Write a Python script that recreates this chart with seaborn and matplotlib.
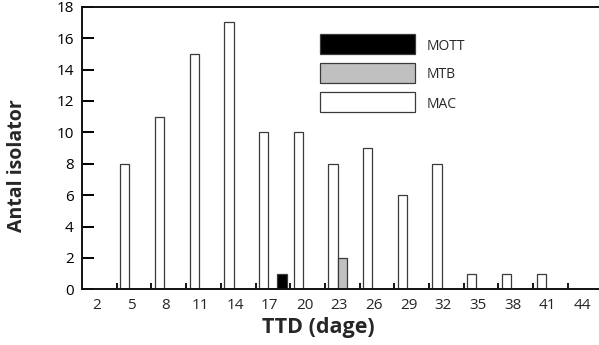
import matplotlib
matplotlib.use("Agg")
import matplotlib.pyplot as plt
import matplotlib.transforms as mtransforms
from matplotlib.patches import Rectangle
import seaborn as sns
import pandas as pd
import numpy as np

ttd_labels = ["2", "5", "8", "11", "14", "17", "20", "23", "26", "29", "32", "35", "38", "41", "44"]
mac_values = [0, 8, 11, 15, 17, 10, 10, 8, 9, 6, 8, 1, 1, 1, 0]
mtb_values = [0, 0, 0, 0, 0, 0, 0, 2, 0, 0, 0, 0, 0, 0, 0]
mott_values = [0, 0, 0, 0, 0, 1, 0, 0, 0, 0, 0, 0, 0, 0, 0]
series_names = ["MAC", "MTB", "MOTT"]
legend_order = ["MOTT", "MTB", "MAC"]
colors = {"MAC": "white", "MTB": "#c0c0c0", "MOTT": "black"}

rows = []
for name, vals in zip(series_names, [mac_values, mtb_values, mott_values]):
    for lab, v in zip(ttd_labels, vals):
        if v > 0:
            rows.append({"TTD": lab, "Antal": v, "Type": name})
df = pd.DataFrame(rows)

sns.set_style("white")
plt.rcParams["font.family"] = ["Open Sans", "DejaVu Sans"]

W, H = 599, 345
fig = plt.figure(figsize=(W / 100, H / 100), dpi=100)
left_px, right_px = 82, 82 + 15 * 34.7
bottom_px, top_px = 289.3, 6.7
ax = fig.add_axes([left_px / W, (H - bottom_px) / H,
                   (right_px - left_px) / W, (bottom_px - top_px) / H])

sns.barplot(data=df, x="TTD", y="Antal", hue="Type", order=ttd_labels,
            hue_order=series_names, palette=colors, width=0.8,
            edgecolor="#3a3a3a", linewidth=0.9, legend=False, ax=ax, dodge=True)

ax.set_xlim(-0.5, 14.5)
ax.set_ylim(0, 18)
ax.set_yticks(np.arange(0, 19, 2))
ax.set_xticks(range(len(ttd_labels)))
ax.set_xticklabels(ttd_labels)
ax.set_xticks(np.arange(0.5, 14, 1.0), minor=True)

for side in ["left", "bottom", "top"]:
    ax.spines[side].set_visible(True)
    ax.spines[side].set_linewidth(1.4)
    ax.spines[side].set_color("#111111")
ax.spines["right"].set_visible(False)

ax.tick_params(axis="y", direction="in", length=8.6, width=1.4, pad=6,
               labelsize=11, colors="black", left=True)
ax.tick_params(axis="x", which="major", length=0, pad=6.5, labelsize=11)
ax.tick_params(axis="x", which="minor", direction="in", length=4.5,
               width=1.3, bottom=True, color="black")

offset = mtransforms.ScaledTranslation(-3 / 100, 0, fig.dpi_scale_trans)
for lbl in ax.get_xticklabels():
    lbl.set_transform(lbl.get_transform() + offset)

ax.set_xlabel("TTD (dage)", fontsize=15.5, fontweight="bold")
ax.set_ylabel("Antal isolator", fontsize=14, fontweight="bold")
axw = right_px - left_px
axh = bottom_px - top_px
ax.xaxis.set_label_coords((318 - left_px) / axw, (bottom_px - 328) / axh)
ax.yaxis.set_label_coords((17 - left_px) / axw, (bottom_px - 166) / axh)
ax.xaxis.label.set_va("center")
ax.yaxis.label.set_va("center")

# legend drawn as boxes + text
box_x0, box_x1 = 320, 415
box_tops = [34, 63, 92]
box_h = 20
for name, top in zip(legend_order, box_tops):
    rect = Rectangle((box_x0 / W, (H - top - box_h) / H), (box_x1 - box_x0) / W, box_h / H,
                     transform=fig.transFigure, facecolor=colors[name],
                     edgecolor="#3a3a3a", linewidth=0.9)
    fig.add_artist(rect)
    fig.text(427 / W, (H - top - box_h / 2 - 2) / H, name, fontsize=10,
             va="center", ha="left")

fig.savefig("out.png", dpi=100)
